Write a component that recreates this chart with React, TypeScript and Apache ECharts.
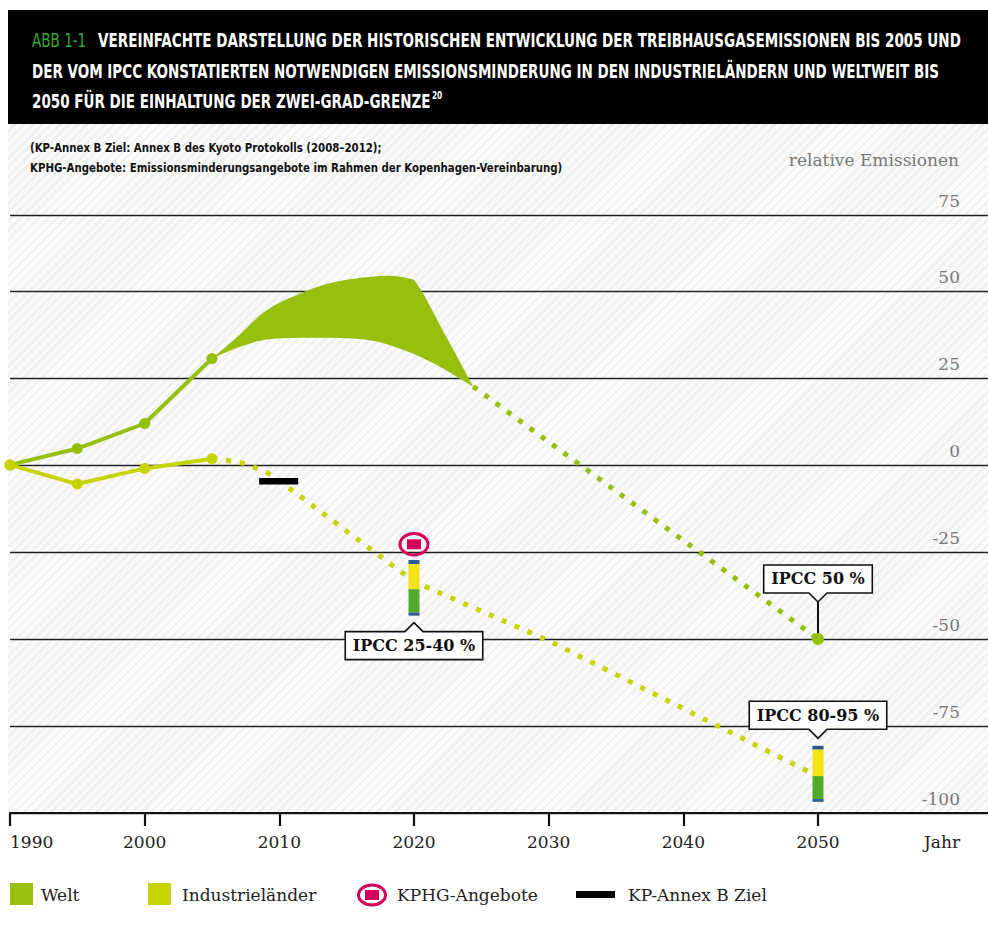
import React, { useEffect, useRef } from "react";
import * as echarts from "echarts";

// ---------- data ----------
const xTickYears = [1990, 2000, 2010, 2020, 2030, 2040, 2050];
const yTickValues = [-100, -75, -50, -25, 0, 25, 50];
const yTopValue = 71.8;
const yTopLabel = "75";

const histYears = [1990, 1995, 2000, 2005];
const weltHist = [0, 4.7, 11.9, 30.6];
const industrieHist = [0, -5.5, -1.0, 1.8];

const bandUpperYears = [2005, 2007, 2008.8, 2010.8, 2013.8, 2017.5, 2019.5, 2020.4, 2022.4, 2024.4];
const bandUpper = [30.6, 37.2, 43.7, 48, 52.3, 54.3, 53.7, 51, 36.8, 22.5];
const bandLowerYears = [2005, 2007, 2009.1, 2012.5, 2016.3, 2018.8, 2021.4, 2024.4];
const bandLower = [30.6, 33.8, 36, 36.5, 36, 33.6, 29.3, 22.5];

const weltProjYears = [2024.4, 2050];
const weltProj = [22.5, -50];
const industrieProjYears = [2005, 2006.3, 2007.4, 2008.4, 2009.4, 2020, 2030, 2040, 2050];
const industrieProj = [1.8, 1.2, 0.4, -1.1, -2.8, -33.5, -50.5, -70, -89.5];

const kpYears = [2008.5, 2011.4];
const kpValues = [-4.7, -4.7];

const kphgYears = [2020];
const kphgValues = [-22.8];

const ipccYears = [2020, 2050];
const ipccBounds = [
  [-27.3, -28.5, -35.7, -42.4, -43.3],
  [-80.7, -81.8, -89.4, -96.0, -96.8],
];

const calloutLabels = ["IPCC 25-40 %", "IPCC 50 %", "IPCC 80-95 %"];
const calloutYears = [2020, 2050, 2050];
const calloutValues = [-43.3, -50, -80.7];

const titleLines = [
  "VEREINFACHTE DARSTELLUNG DER HISTORISCHEN ENTWICKLUNG DER TREIBHAUSGASEMISSIONEN BIS 2005 UND",
  "DER VOM IPCC KONSTATIERTEN NOTWENDIGEN EMISSIONSMINDERUNG IN DEN INDUSTRIELÄNDERN UND WELTWEIT BIS",
  "2050 FÜR DIE EINHALTUNG DER ZWEI-GRAD-GRENZE",
];
const subtitleLines = [
  "(KP-Annex B Ziel: Annex B des Kyoto Protokolls (2008–2012);",
  "KPHG-Angebote: Emissionsminderungsangebote im Rahmen der Kopenhagen-Vereinbarung)",
];

// ---------- styles ----------
const GREEN = "#97bf0d";
const YELLOW = "#c8d400";
const CRIMSON = "#d4005a";
const IPCC_BLUE = "#2d5b8c";
const IPCC_YELLOW = "#f1e314";
const IPCC_GREEN = "#52aa2b";
const segColors = [IPCC_BLUE, IPCC_YELLOW, IPCC_GREEN, IPCC_BLUE];
const SERIF = '"DejaVu Serif", serif';
const COND = '"Liberation Sans Narrow", "DejaVu Sans Condensed", Roboto, sans-serif';

let measureCtx: CanvasRenderingContext2D | null = null;
function measure(text: string, font: string): number {
  if (!measureCtx) measureCtx = document.createElement("canvas").getContext("2d");
  measureCtx!.font = font;
  return measureCtx!.measureText(text).width;
}

function catmull(pts: number[][], start: "M" | "L"): string {
  let d = `${start}${pts[0][0]},${pts[0][1]}`;
  for (let i = 0; i < pts.length - 1; i++) {
    const p0 = pts[i - 1] || pts[i];
    const p1 = pts[i];
    const p2 = pts[i + 1];
    const p3 = pts[i + 2] || p2;
    const c1 = [p1[0] + (p2[0] - p0[0]) / 6, p1[1] + (p2[1] - p0[1]) / 6];
    const c2 = [p2[0] - (p3[0] - p1[0]) / 6, p2[1] - (p3[1] - p1[1]) / 6];
    d += ` C${c1[0]},${c1[1]} ${c2[0]},${c2[1]} ${p2[0]},${p2[1]}`;
  }
  return d;
}

export default function App() {
  const ref = useRef<HTMLDivElement>(null);

  useEffect(() => {
    const chart = echarts.init(ref.current!, null, { renderer: "svg" });

    const TS = 20;
    const titleFont = `bold ${TS}px ${COND}`;
    const titleScale = 908 / measure(titleLines[1], titleFont);
    const line1Scale = 864 / measure(titleLines[0], titleFont);
    const subFont = `bold 13px ${COND}`;
    const subScale = 533 / measure(subtitleLines[1], subFont);
    const line3W = measure(titleLines[2], titleFont) * titleScale;

    const titleText = (text: string, x: number, y: number, fill: string, size: number, scale: number, weight = "bold") => ({
      type: "text",
      x,
      y,
      scaleX: scale,
      style: {
        text,
        fill,
        fontSize: size,
        fontWeight: weight,
        fontFamily: COND,
        textVerticalAlign: "middle",
        verticalAlign: "middle",
      },
      silent: true,
    });

    const legendText = (text: string, x: number) => ({
      type: "text",
      x,
      y: 895,
      style: { text, fill: "#222", fontSize: 17, fontFamily: SERIF, textVerticalAlign: "middle", verticalAlign: "middle" },
    });

    const ipccData: number[][] = [];
    ipccYears.forEach((yr, i) => {
      for (let s = 0; s < 4; s++) ipccData.push([yr, ipccBounds[i][s], ipccBounds[i][s + 1], s]);
    });

    // callout geometry (pixel styles)
    const calloutDir = [1, -1, -1];
    const calloutGap = [7, 37, 7.5];
    const calloutStem = [false, true, false];

    const option: any = {
      animation: false,
      backgroundColor: "transparent",
      grid: { left: 10, right: 0, top: 215, bottom: 116, containLabel: false, outerBoundsMode: "none" },
      xAxis: {
        type: "value",
        min: 1990,
        max: 1990 + 978 / (808 / 60),
        interval: 10,
        axisLine: { show: true, onZero: false, lineStyle: { color: "#111", width: 2.2 } },
        axisTick: { show: true, length: 13, lineStyle: { color: "#111", width: 2.2 }, customValues: xTickYears },
        axisLabel: {
          customValues: xTickYears,
          color: "#222",
          fontFamily: SERIF,
          fontSize: 17,
          margin: 20,
          alignMinLabel: "left",
          formatter: (v: number) => String(Math.round(v)),
        },
        splitLine: { show: false },
      },
      yAxis: {
        type: "value",
        position: "right",
        min: -100,
        max: yTopValue,
        interval: 25,
        name: "relative Emissionen",
        nameLocation: "end",
        nameGap: 55,
        nameTextStyle: {
          color: "#777",
          fontFamily: SERIF,
          fontSize: 17,
          align: "right",
          verticalAlign: "middle",
          padding: [0, 29, 0, 0],
        },
        axisLine: { show: false },
        axisTick: { show: false },
        axisLabel: {
          inside: true,
          customValues: [...yTickValues, yTopValue],
          formatter: (v: number) => (v > 60 ? yTopLabel : String(Math.round(v))),
          color: "#777",
          fontFamily: SERIF,
          fontSize: 17,
          margin: 28,
          verticalAlign: "bottom",
          lineHeight: 28,
          align: "right",
        },
        splitLine: { show: true, lineStyle: { color: "#222", width: 1.4 } },
      },
      graphic: [
        { type: "rect", shape: { x: 8, y: 10, width: 980, height: 114 }, style: { fill: "#000" }, silent: true },
        titleText("ABB 1-1", 32, 40, "#36aa38", TS, line1Scale, "normal"),
        titleText(titleLines[0], 98, 40, "#fff", TS, line1Scale),
        titleText(titleLines[1], 32, 71, "#fff", TS, titleScale),
        titleText(titleLines[2], 32, 101, "#fff", TS, titleScale),
        titleText("20", 32 + line3W + 1, 95, "#fff", 11, titleScale),
        titleText(subtitleLines[0], 30, 148, "#111", 13, subScale),
        titleText(subtitleLines[1], 30, 168, "#111", 13, subScale),
        {
          type: "text",
          x: 942,
          y: 842,
          style: { text: "Jahr", fill: "#222", fontSize: 17, fontFamily: SERIF, textAlign: "center", align: "center", textVerticalAlign: "middle", verticalAlign: "middle" },
        },
        // legend
        { type: "rect", shape: { x: 10, y: 883, width: 23, height: 22 }, style: { fill: GREEN } },
        legendText("Welt", 41),
        { type: "rect", shape: { x: 148, y: 883, width: 23, height: 22 }, style: { fill: YELLOW } },
        legendText("Industrieländer", 182),
        { type: "ellipse", shape: { cx: 372, cy: 895, rx: 13.5, ry: 10 }, style: { fill: "none", stroke: CRIMSON, lineWidth: 3 } },
        { type: "rect", shape: { x: 365, y: 890, width: 14, height: 10 }, style: { fill: CRIMSON } },
        legendText("KPHG-Angebote", 397),
        { type: "rect", shape: { x: 576, y: 891, width: 39, height: 7 }, style: { fill: "#000" } },
        legendText("KP-Annex B Ziel", 628),
      ],
      series: [
        {
          name: "Welt (Bandbreite)",
          type: "custom",
          z: 3,
          data: bandUpperYears.map((yr, i) => [yr, bandUpper[i]]),
          encode: { x: 0, y: 1 },
          renderItem: (params: any, api: any) => {
            if (params.dataIndex !== 0) return null;
            const up = bandUpperYears.map((yr, i) => api.coord([yr, bandUpper[i]]));
            const lo = bandLowerYears.map((yr, i) => api.coord([yr, bandLower[i]])).reverse();
            const d = catmull(up, "M") + " " + catmull(lo, "L") + " Z";
            return { type: "path", shape: { pathData: d }, style: { fill: GREEN } };
          },
        },
        {
          name: "Welt",
          type: "line",
          z: 4,
          data: histYears.map((yr, i) => [yr, weltHist[i]]),
          symbol: "circle",
          symbolSize: 11,
          lineStyle: { color: GREEN, width: 4 },
          itemStyle: { color: GREEN },
        },
        {
          name: "Welt Projektion",
          type: "line",
          z: 4,
          data: weltProjYears.map((yr, i) =>
            i === weltProjYears.length - 1
              ? { value: [yr, weltProj[i]], symbol: "circle", symbolSize: 12 }
              : { value: [yr, weltProj[i]], symbol: "none" }
          ),
          showSymbol: true,
          lineStyle: { color: GREEN, width: 5, type: [5, 9], cap: "butt" },
          itemStyle: { color: GREEN },
        },
        {
          name: "Industrieländer Projektion",
          type: "line",
          z: 4,
          data: industrieProjYears.map((yr, i) => [yr, industrieProj[i]]),
          symbol: "none",
          lineStyle: { color: YELLOW, width: 5, type: [5, 9], cap: "butt" },
        },
        {
          name: "Industrieländer",
          type: "line",
          z: 5,
          data: histYears.map((yr, i) => [yr, industrieHist[i]]),
          symbol: "circle",
          symbolSize: 11,
          lineStyle: { color: YELLOW, width: 4 },
          itemStyle: { color: YELLOW },
        },
        {
          name: "KP-Annex B Ziel",
          type: "line",
          z: 5,
          data: kpYears.map((yr, i) => [yr, kpValues[i]]),
          symbol: "none",
          lineStyle: { color: "#000", width: 6.5, cap: "butt" },
        },
        {
          name: "IPCC",
          type: "custom",
          z: 6,
          data: ipccData,
          encode: { x: 0, y: [1, 2] },
          renderItem: (params: any, api: any) => {
            const x = api.value(0);
            const p1 = api.coord([x, api.value(1)]);
            const p2 = api.coord([x, api.value(2)]);
            return {
              type: "rect",
              shape: { x: p1[0] - 5.5, y: p1[1], width: 11, height: p2[1] - p1[1] },
              style: { fill: segColors[api.value(3)] },
            };
          },
        },
        {
          name: "KPHG-Angebote",
          type: "custom",
          z: 6,
          data: kphgYears.map((yr, i) => [yr, kphgValues[i]]),
          encode: { x: 0, y: 1 },
          renderItem: (params: any, api: any) => {
            const p = api.coord([api.value(0), api.value(1)]);
            return {
              type: "group",
              children: [
                { type: "ellipse", shape: { cx: p[0], cy: p[1], rx: 14, ry: 10.7 }, style: { fill: "none", stroke: CRIMSON, lineWidth: 3 } },
                { type: "rect", shape: { x: p[0] - 7, y: p[1] - 5, width: 14, height: 10 }, style: { fill: CRIMSON } },
              ],
            };
          },
        },
        {
          name: "IPCC Hinweise",
          type: "custom",
          z: 3,
          data: calloutYears.map((yr, i) => [yr, calloutValues[i]]),
          encode: { x: 0, y: 1 },
          renderItem: (params: any, api: any) => {
            const i = params.dataIndex;
            const p = api.coord([api.value(0), api.value(1)]);
            const text = calloutLabels[i];
            const dir = calloutDir[i];
            const tw = measure(text, `bold 16px ${SERIF}`);
            const w = tw + 15;
            const h = 28;
            const nh = 9;
            const nw = 9;
            const cx = p[0];
            const apexY = p[1] + dir * calloutGap[i];
            const baseY = apexY + dir * nh;
            const farY = baseY + dir * h;
            const l = cx - w / 2;
            const r = cx + w / 2;
            const pts = [
              [l, baseY],
              [cx - nw, baseY],
              [cx, apexY],
              [cx + nw, baseY],
              [r, baseY],
              [r, farY],
              [l, farY],
            ];
            const children: any[] = [];
            if (calloutStem[i]) {
              children.push({ type: "line", shape: { x1: cx, y1: p[1], x2: cx, y2: apexY }, style: { stroke: "#111", lineWidth: 2 } });
            }
            children.push({ type: "polygon", shape: { points: pts }, style: { fill: "#fff", stroke: "#111", lineWidth: 1.6 } });
            children.push({
              type: "text",
              x: cx,
              y: (baseY + farY) / 2,
              style: {
                text,
                fill: "#111",
                fontSize: 16,
                fontWeight: "bold",
                fontFamily: SERIF,
                align: "center",
                verticalAlign: "middle",
                textAlign: "center",
                textVerticalAlign: "middle",
              },
            });
            return { type: "group", children };
          },
        },
      ],
    };

    chart.setOption(option);
    return () => chart.dispose();
  }, []);

  return (
    <div style={{ position: "absolute", left: 0, top: 0, width: 988, height: 929, background: "#fff" }}>
      <div
        style={{
          position: "absolute",
          left: 8,
          top: 124,
          width: 980,
          height: 689,
          background: "repeating-linear-gradient(135deg, #fbfbfb 0px, #fbfbfb 3.8px, #f0f0f0 3.8px, #f0f0f0 6.4px)",
        }}
      />
      <div ref={ref} style={{ position: "absolute", left: 0, top: 0, width: 988, height: 929 }} />
    </div>
  );
}
